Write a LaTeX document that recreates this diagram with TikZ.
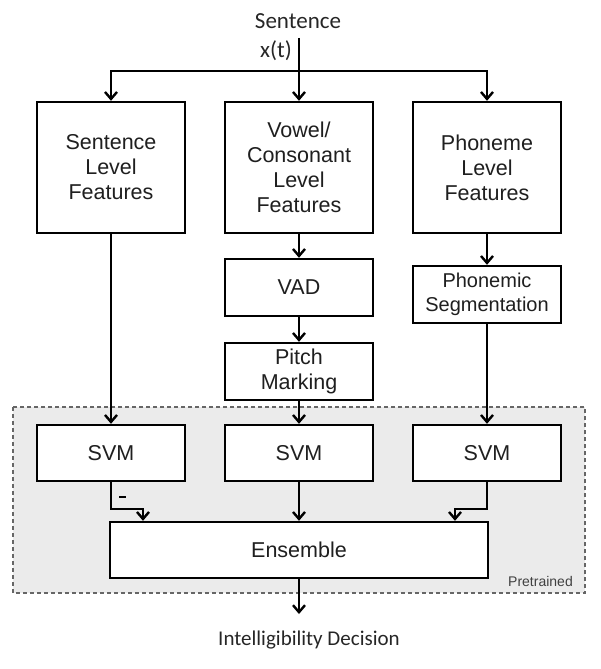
\documentclass[tikz,border=0pt]{standalone}
\usepackage{fontspec}
\setmainfont{Liberation Sans}
\newfontfamily\arialf{Liberation Sans}
\newfontfamily\carl{Carlito}
\usetikzlibrary{arrows.meta}
\tikzset{
  box/.style={draw=black, line width=2.4pt, fill=white, align=center, inner sep=0pt,
    font=\arialf\fontsize{21.5}{25}\selectfont, text=black!88},
  arr/.style={line width=2.4pt, -{Straight Barb[length=7pt,width=12pt,line width=2.4pt]}},
  ln/.style={line width=2.4pt},
  lbl/.style={font=\carl\fontsize{23}{25}\selectfont, text=black!85, inner sep=0pt}
}
\begin{document}
\begin{tikzpicture}[x=1pt,y=-1pt]
\useasboundingbox (0,0) rectangle (600,669);
% pretrained region
\draw[line width=1.4pt, draw=black!60, fill=black!8, dash pattern=on 4pt off 3pt] (13,407) rectangle (585,593);
\node[font=\arialf\fontsize{14}{15}\selectfont, text=black!75, anchor=east, inner sep=0pt] (pre) at (573,581) {Pretrained};
% labels
\node[lbl] (sent) at (298,21) {Sentence};
\node[lbl] (xt) at (276,51) {x(t)};
\coordinate (top) at (299,38);
\coordinate (split) at (299,71);
% boxes
\node[box, minimum width=148pt, minimum height=131pt] (slf) at (111,167.5) {Sentence\\Level\\Features};
\node[box, minimum width=148pt, minimum height=131pt] (vcf) at (299,167.5) {Vowel/\\Consonant\\Level\\Features};
\node[box, minimum width=148pt, minimum height=131pt] (plf) at (487,167.5) {Phoneme\\Level\\Features};
\node[box, minimum width=148pt, minimum height=57pt] (vad) at (299,287.5) {VAD};
\node[box, minimum width=148pt, minimum height=57pt] (pm) at (299,371.5) {Pitch\\Marking};
\node[box, minimum width=148pt, minimum height=57pt, font=\arialf\fontsize{20}{24}\selectfont] (ps) at (487,294.5) {Phonemic\\Segmentation};
\node[box, minimum width=148pt, minimum height=56pt] (svm1) at (111,453) {SVM};
\node[box, minimum width=148pt, minimum height=56pt] (svm2) at (299,453) {SVM};
\node[box, minimum width=148pt, minimum height=56pt] (svm3) at (487,453) {SVM};
\node[box, minimum width=378pt, minimum height=56pt] (ens) at (299,550) {Ensemble};
\node[lbl, font=\carl\fontsize{21}{23}\selectfont] (dec) at (309,640) {Intelligibility Decision};
\coordinate (decin) at (299,614);
% connectors
\draw[arr] (top) -- (vcf.north);
\draw[arr] (split) -| (slf.north);
\draw[arr] (split) -| (plf.north);
\draw[arr] (slf.south) -- (svm1.north);
\draw[arr] (vcf.south) -- (vad.north);
\draw[arr] (vad.south) -- (pm.north);
\draw[arr] (pm.south) -- (svm2.north);
\draw[arr] (plf.south) -- (ps.north);
\draw[arr] (ps.south) -- (svm3.north);
\coordinate (k1) at (143,509);
\coordinate (k3) at (455,509);
\draw[arr] (svm1.south) |- (k1) -- (k1 |- ens.north);
\draw[arr] (svm2.south) -- (ens.north -| svm2.south);
\draw[arr] (svm3.south) |- (k3) -- (k3 |- ens.north);
\coordinate (m1) at (119,497);
\coordinate (m2) at (126,497);
\draw[ln, line width=1.8pt] (m1) -- (m2);
\draw[arr] (ens.south) -- (decin);
\end{tikzpicture}
\end{document}
